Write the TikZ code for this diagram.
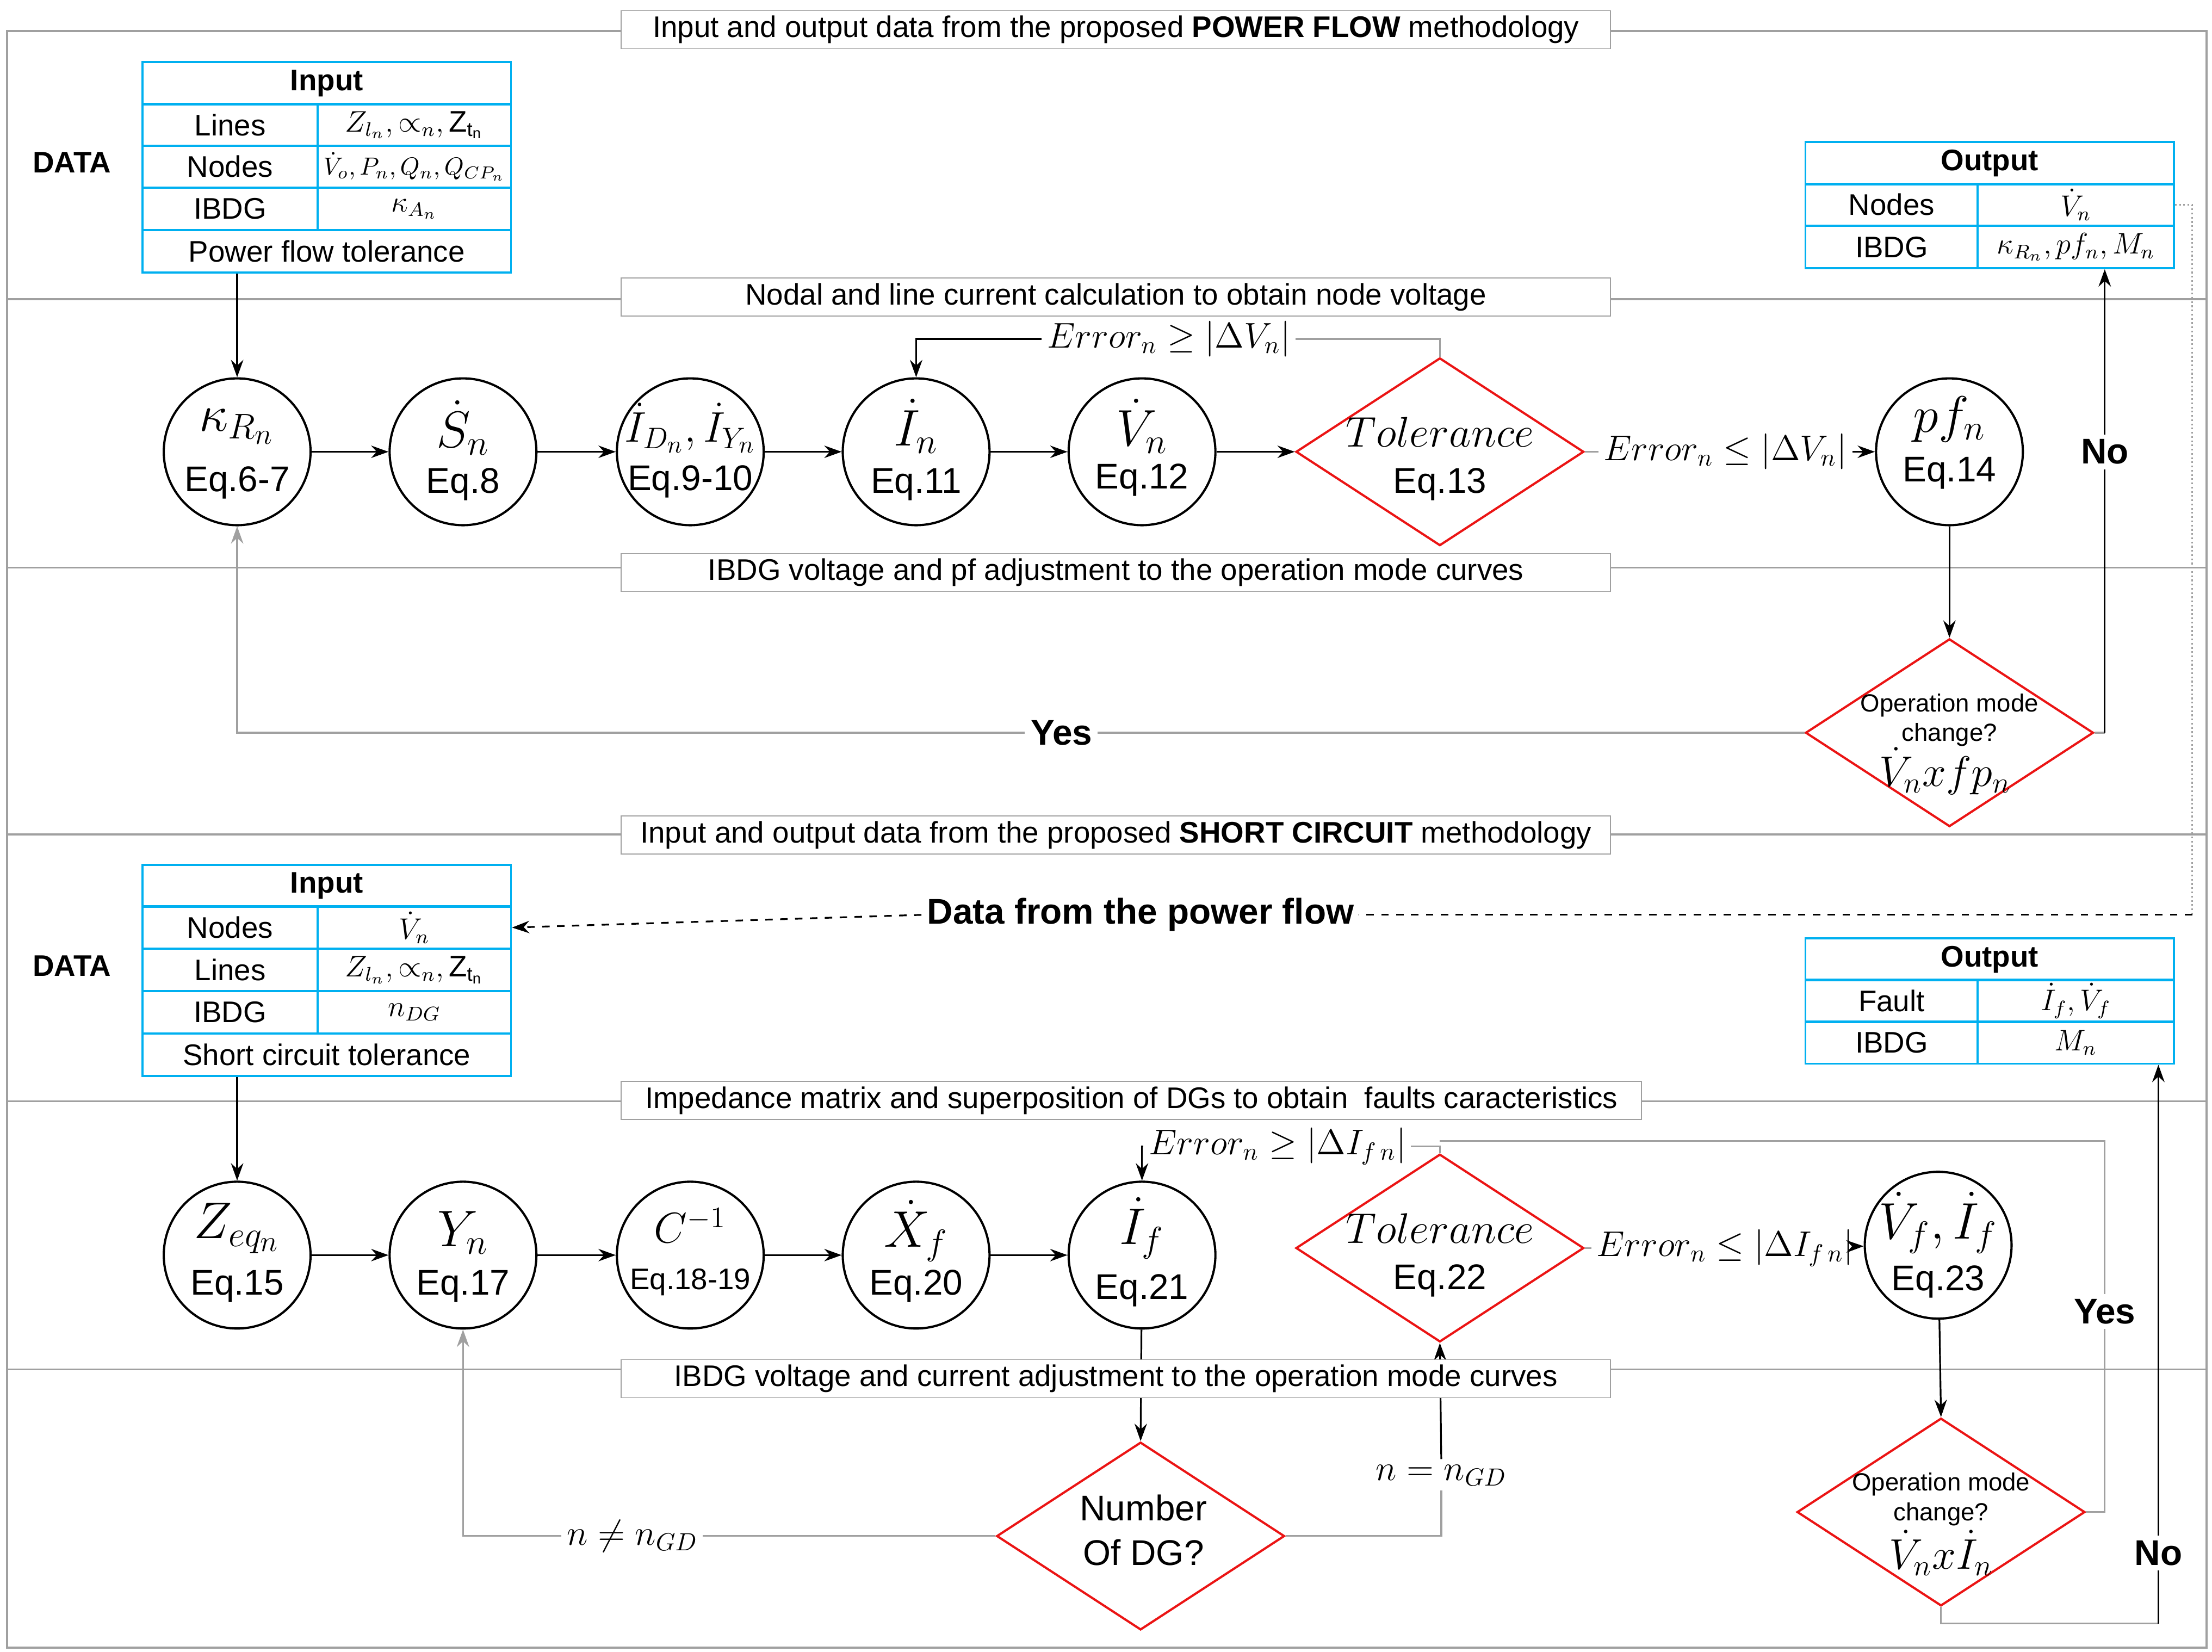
\documentclass[tikz,border=0pt]{standalone}
\usepackage{fontspec}
\setmainfont{Liberation Sans}
\usetikzlibrary{shapes.geometric,arrows.meta}
\definecolor{cy}{RGB}{0,176,240}
\definecolor{rd}{RGB}{235,20,20}
\definecolor{gr}{RGB}{160,160,160}
\begin{document}
\begin{tikzpicture}[x=0.02cm,y=-0.02cm,
 cell/.style={draw=cy,line width=0.8pt,minimum height=0.6cm,inner sep=0pt,font=\large},
 circ/.style={circle,draw,line width=0.9pt,minimum size=2.08cm,inner sep=0pt},
 top/.style={font=\huge,inner sep=0pt},
 eqt/.style={font=\Large,inner sep=0pt},
 dia/.style={diamond,draw=rd,line width=0.9pt,minimum width=4.08cm,minimum height=2.66cm,inner sep=0pt},
 tbox/.style={draw=gr,fill=white,minimum width=14.02cm,minimum height=0.54cm,inner sep=0pt,font=\large},
 arr/.style={-{Stealth[length=7pt,width=5pt]},line width=0.7pt},
 gl/.style={draw=gr,line width=0.7pt},
 lab/.style={fill=white,inner sep=2pt,font=\large}]
\useasboundingbox (0,0) rectangle (1567,1170);
\draw[gr,line width=0.8pt] (5,22) rectangle (1563,1167);
\foreach \yy in {212,402,591,780,970} \draw[gr,line width=0.8pt] (5,\yy) -- (1563,\yy);
\node[font=\large\bfseries] (d1) at (51,115) {DATA};
\node[font=\large\bfseries] (d2) at (51,684) {DATA};
% Input table 1
\node[cell,minimum width=5.22cm,font=\large\bfseries] (i1h) at (231.5,59) {Input};
\node[cell,minimum width=2.48cm] (i1a) at (163,88.5) {Lines};
\node[cell,minimum width=2.74cm] (i1b) at (293.5,88.5) {$Z_{l_n},\propto_n,\mathrm{Z}_{\mathrm{t_n}}$};
\node[cell,minimum width=2.48cm] (i1c) at (163,118) {Nodes};
\node[cell,minimum width=2.74cm,font=\normalsize] (i1d) at (293.5,118) {$\dot V_o,P_n,Q_n,Q_{CP_n}$};
\node[cell,minimum width=2.48cm] (i1e) at (163,148) {IBDG};
\node[cell,minimum width=2.74cm] (i1f) at (293.5,148) {$\kappa_{A_n}$};
\node[cell,minimum width=5.22cm] (i1g) at (231.5,178) {Power flow tolerance};
% Output table 1
\node[cell,minimum width=5.22cm,font=\large\bfseries] (o1h) at (1409.5,115.5) {Output};
\node[cell,minimum width=2.44cm] (o1a) at (1340,145) {Nodes};
\node[cell,minimum width=2.78cm] (o1b) at (1470.5,145) {$\dot V_n$};
\node[cell,minimum width=2.44cm] (o1c) at (1340,175) {IBDG};
\node[cell,minimum width=2.78cm] (o1d) at (1470.5,175) {$\kappa_{R_n},pf_n,M_n$};
% Input table 2
\node[cell,minimum width=5.22cm,font=\large\bfseries] (i2h) at (231.5,627.5) {Input};
\node[cell,minimum width=2.48cm] (i2a) at (163,657) {Nodes};
\node[cell,minimum width=2.74cm] (i2b) at (293.5,657) {$\dot V_n$};
\node[cell,minimum width=2.48cm] (i2c) at (163,687) {Lines};
\node[cell,minimum width=2.74cm] (i2d) at (293.5,687) {$Z_{l_n},\propto_n,\mathrm{Z}_{\mathrm{t_n}}$};
\node[cell,minimum width=2.48cm] (i2e) at (163,717) {IBDG};
\node[cell,minimum width=2.74cm] (i2f) at (293.5,717) {$n_{DG}$};
\node[cell,minimum width=5.22cm] (i2g) at (231.5,747) {Short circuit tolerance};
% Output table 2
\node[cell,minimum width=5.22cm,font=\large\bfseries] (o2h) at (1409.5,679.5) {Output};
\node[cell,minimum width=2.44cm] (o2a) at (1340,709) {Fault};
\node[cell,minimum width=2.78cm] (o2b) at (1470.5,709) {$\dot I_f,\dot V_f$};
\node[cell,minimum width=2.44cm] (o2c) at (1340,738.5) {IBDG};
\node[cell,minimum width=2.78cm] (o2d) at (1470.5,738.5) {$M_n$};
% Row 1
\node[circ] (k) at (168,320) {};
\node[top] (kt) at (168,302) {$\kappa_{R_n}$};
\node[eqt] (ke) at (168,342) {Eq.6-7};
\node[circ] (s) at (328,320) {};
\node[top] (st) at (328,303) {$\dot S_n$};
\node[eqt] (se) at (328,343) {Eq.8};
\node[circ] (idy) at (489,320) {};
\node[top,font=\LARGE] (idyt) at (489,303) {$\dot I_{D_n},\dot I_{Y_n}$};
\node[eqt] (idye) at (489,341) {Eq.9-10};
\node[circ] (in) at (649,320) {};
\node[top] (int) at (649,302) {$\dot I_n$};
\node[eqt] (ine) at (649,343) {Eq.11};
\node[circ] (vn) at (809,320) {};
\node[top] (vnt) at (809,302) {$\dot V_n$};
\node[eqt] (vne) at (809,340) {Eq.12};
\node[dia] (t1) at (1020,320) {};
\node[font=\LARGE] (t1t) at (1020,306) {$Tolerance$};
\node[eqt] (t1e) at (1020,343) {Eq.13};
\node[circ] (pf) at (1381,320) {};
\node[top] (pft) at (1381,297) {$pf_n$};
\node[eqt] (pfe) at (1381,335) {Eq.14};
\node[dia] (op1) at (1381,519) {};
\node[font=\normalsize,align=center,inner sep=0pt] (op1t) at (1381,510) {Operation mode\\change?};
\node[font=\LARGE,inner sep=0pt] (op1m) at (1378,546) {$\dot V_n xfp_n$};
\draw[arr] (i1g.south -| k) -- (k);
\draw[arr] (k) -- (s);
\draw[arr] (s) -- (idy);
\draw[arr] (idy) -- (in);
\draw[arr] (in) -- (vn);
\draw[arr] (vn) -- (t1);
\draw[gl] (t1.east) -- (1222,320) node[lab,font=\Large] (e1) {$Error_n\leq|\Delta V_n|$};
\draw[arr] (e1) -- (pf);
\draw[gl] (t1.north) |- (828,240) node[lab,font=\Large] (e2) {$Error_n\geq|\Delta V_n|$};
\draw[arr] (e2.west) -| (in.north);
\draw[arr] (pf) -- (op1.north);
\draw[gl] (op1.west) -- (752,519) node[lab,font=\Large\bfseries] (yes1) {Yes};
\draw[arr,draw=gr] (yes1.west) -| (k.south);
\draw[gl] (op1.east) -- (1491,519) coordinate (c1);
\draw[arr] (c1) -- (1491,320) node[lab,font=\Large\bfseries] (no1) {No} -- (o1d.south -| c1);
\draw[gl,densely dotted] (o1d.east |- o1b) -- (1553,145) -- (1553,648) coordinate (c2);
\draw[dashed,line width=0.7pt] (c2) -- (808,648) node[lab,font=\Large\bfseries] (dfp) {Data from the power flow};
\draw[arr,dashed] (dfp.west) -- (i2b.east);
% Row 2
\node[circ] (z) at (168,889) {};
\node[top] (zt) at (168,870) {$Z_{eq_n}$};
\node[eqt] (ze) at (168,911) {Eq.15};
\node[circ] (y) at (328,889) {};
\node[top] (yt) at (328,873) {$Y_n$};
\node[eqt] (ye) at (328,911) {Eq.17};
\node[circ] (c) at (489,889) {};
\node[top,font=\LARGE] (ct) at (489,868) {$C^{-1}$};
\node[eqt,font=\large] (ce) at (489,908) {Eq.18-19};
\node[circ] (x) at (649,889) {};
\node[top] (xt) at (649,872) {$\dot X_f$};
\node[eqt] (xe) at (649,911) {Eq.20};
\node[circ] (if) at (809,889) {};
\node[top] (ift) at (809,870) {$\dot I_f$};
\node[eqt] (ife) at (809,914) {Eq.21};
\node[dia] (t2) at (1020,884) {};
\node[font=\LARGE] (t2t) at (1020,870) {$Tolerance$};
\node[eqt] (t2e) at (1020,907) {Eq.22};
\node[circ] (vf) at (1373,882) {};
\node[top] (vft) at (1373,866) {$\dot V_f,\dot I_f$};
\node[eqt] (vfe) at (1373,908) {Eq.23};
\node[dia] (op2) at (1375,1071) {};
\node[font=\normalsize,align=center,inner sep=0pt] (op2t) at (1375,1062) {Operation mode\\change?};
\node[font=\LARGE,inner sep=0pt] (op2m) at (1375,1100) {$\dot V_n x\dot I_n$};
\node[dia] (nd) at (808,1088) {};
\node[font=\Large,align=center] (ndt) at (810,1084) {Number\\Of DG?};
\draw[arr] (i2g.south -| z) -- (z);
\draw[arr] (z) -- (y);
\draw[arr] (y) -- (c);
\draw[arr] (c) -- (x);
\draw[arr] (x) -- (if);
\draw[arr] (if) -- (nd.north);
\draw[gl] (t2.east) -- (1222,884) node[lab,font=\Large] (e3) {$Error_n\leq|\Delta I_{f\,n}|$};
\draw[arr] (e3) -- (vf);
\draw[gl] (t2.north) |- (905,812) node[lab,font=\Large] (e4) {$Error_n\geq|\Delta I_{f\,n}|$};
\draw[arr] (e4.west) -| (if.north);
\draw[gl] (op2.east) -- (1491,1071) -- (1491,929) node[lab,font=\Large\bfseries] (yes2) {Yes} -- (1491,808) -- (1020,808);
\draw[arr] (vf) -- (op2.north);
\draw[gl] (nd.west) -- (448,1088) node[lab,font=\Large] (ne) {$n\neq n_{GD}$};
\draw[arr,draw=gr] (ne.west) -| (y.south);
\draw[gl] (nd.east) -| (1021,1045) node[lab,font=\Large] (eq) {$n=n_{GD}$};
\draw[arr] (eq.north) -- (t2.south);
\draw[gl] (op2.south) -- (1375,1150) -- (1529,1150) coordinate (c3);
\draw[arr] (c3) -- (1529,1100) node[lab,font=\Large\bfseries] (no2) {No} -- (o2d.south -| c3);
% title boxes
\node[tbox] (b1) at (790.5,21) {Input and output data from the proposed \textbf{POWER FLOW} methodology};
\node[tbox] (b2) at (790.5,210.5) {Nodal and line current calculation to obtain node voltage};
\node[tbox] (b3) at (790.5,405.5) {IBDG voltage and pf adjustment to the operation mode curves};
\node[tbox] (b4) at (790.5,591.5) {Input and output data from the proposed \textbf{SHORT CIRCUIT} methodology};
\node[tbox,minimum width=14.46cm] (b5) at (801.5,779.5) {Impedance matrix and superposition of DGs to obtain\ \ faults caracteristics};
\node[tbox] (b6) at (790.5,976.5) {IBDG voltage and current adjustment to the operation mode curves};
\end{tikzpicture}
\end{document}
